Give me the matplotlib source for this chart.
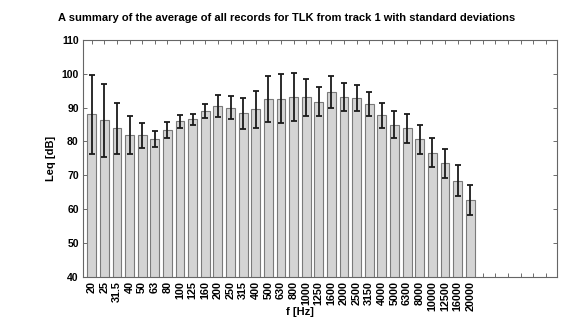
import numpy as np
import matplotlib.pyplot as plt

plt.rcParams['font.family'] = ['Liberation Sans', 'DejaVu Sans']
plt.rcParams['font.weight'] = 'bold'

# third-octave band centre frequencies
bands = ['20', '25', '31.5', '40', '50', '63', '80', '100', '125', '160',
         '200', '250', '315', '400', '500', '630', '800', '1000', '1250', '1600',
         '2000', '2500', '3150', '4000', '5000', '6300', '8000', '10000', '12500',
         '16000', '20000']

# mean Leq per band [dB]
leq_mean = [88.0, 86.3, 83.9, 81.9, 81.8, 80.7, 83.3, 86.0, 86.5, 89.0,
            90.5, 90.0, 88.3, 89.5, 92.6, 92.7, 93.1, 93.1, 91.8, 94.6,
            93.1, 92.9, 91.0, 87.8, 85.0, 83.9, 80.6, 76.7, 73.6, 68.4,
            62.7]

# standard deviation per band [dB]
leq_std = [11.6, 10.8, 7.6, 5.5, 3.8, 2.4, 2.4, 1.9, 1.6, 2.1,
           3.2, 3.3, 4.6, 5.5, 6.8, 7.2, 7.1, 5.5, 4.4, 4.7,
           4.1, 3.9, 3.6, 3.7, 3.9, 4.3, 4.3, 4.2, 4.3, 4.6,
           4.5]

x = np.arange(1, len(bands) + 1)

fig = plt.figure(figsize=(5.64, 3.2), dpi=100)
ax = fig.add_axes([0.147, 0.135, 0.841, 0.74])

ax.bar(x, leq_mean, width=0.7, bottom=0, color='#d4d4d4', edgecolor='#7a7a7a',
       linewidth=0.8, zorder=2)
ax.errorbar(x, leq_mean, yerr=leq_std, fmt='none', ecolor='#1a1a1a',
            elinewidth=1.3, capsize=2, capthick=1.3, zorder=3)

ax.set_xlim(0.3, 37.9)
ax.set_ylim(40, 110)
ticks = np.arange(1, 38)
ax.set_xticks(ticks)
ax.set_xticklabels(bands + [''] * (len(ticks) - len(bands)), rotation=90,
                   fontsize=7.8, fontweight='bold')
ax.set_yticks(np.arange(40, 111, 10))
ax.tick_params(axis='y', labelsize=7.5)
ax.tick_params(direction='in', top=True, right=True, length=3, width=0.6,
               color='#555555', pad=3)
for s in ax.spines.values():
    s.set_color('#666666')
    s.set_linewidth(0.8)

ax.set_ylabel('Leq [dB]', fontsize=8, fontweight='bold')
# x label sits below the rotated band labels
fig.text(0.532, 0.008, 'f [Hz]', ha='center', va='bottom',
         fontsize=8, fontweight='bold')
fig.text(0.508, 0.945, 'A summary of the average of all records for TLK from track 1 with standard deviations',
         ha='center', va='center', fontsize=8.0, fontweight='bold')

fig.savefig('out.png', dpi=100)
